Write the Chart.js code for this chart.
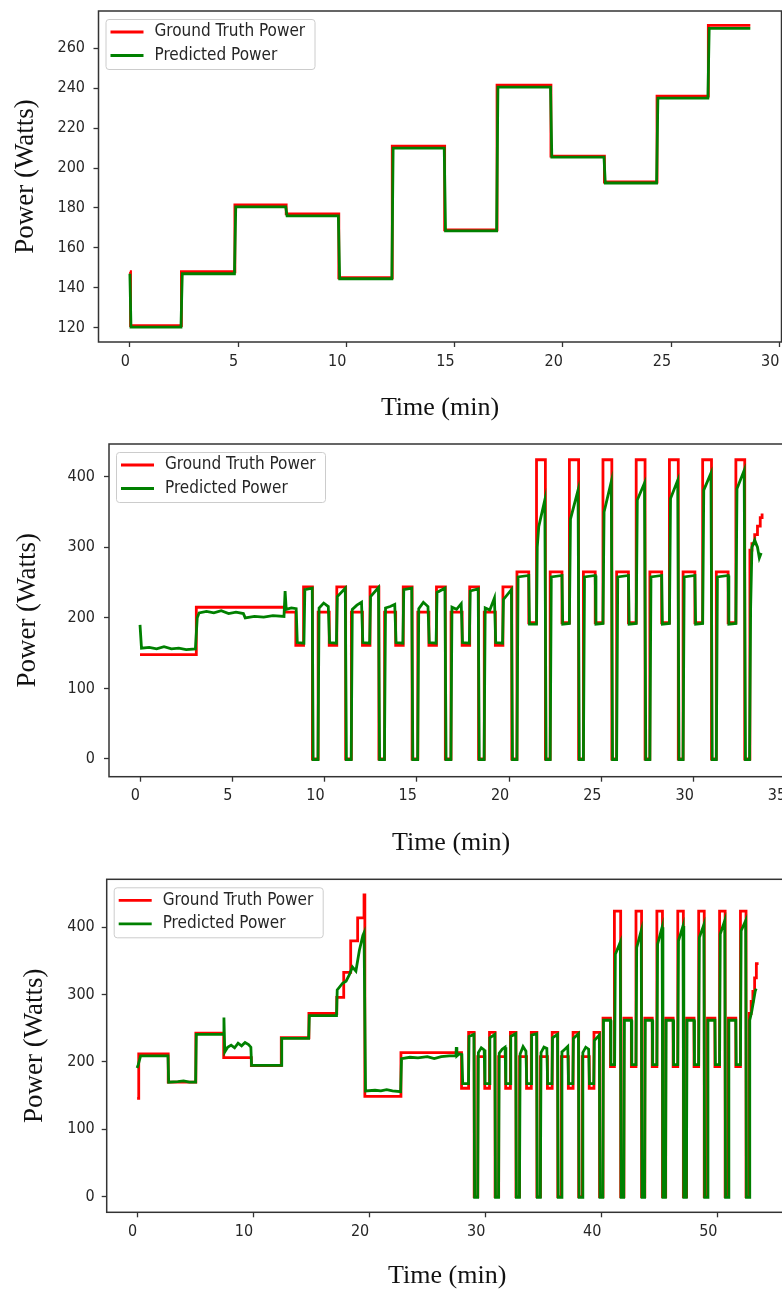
<!DOCTYPE html>
<html>
<head>
<meta charset="utf-8">
<script src="https://cdn.jsdelivr.net/npm/chart.js@4.4.1/dist/chart.umd.min.js"></script>
<style>
html, body { margin: 0; padding: 0; background: #ffffff; overflow: hidden; width: 782px; height: 1293px; }
.panel { position: absolute; left: 0; }
canvas { display: block; }
</style>
</head>
<body>
<div class="panel" style="top:0px"><canvas id="c1" width="800" height="430"></canvas></div>
<div class="panel" style="top:430px"><canvas id="c2" width="800" height="430"></canvas></div>
<div class="panel" style="top:862px"><canvas id="c3" width="800" height="431"></canvas></div>
<script>
// ---------------- DATA ----------------
const seriesLabels = ['Ground Truth Power', 'Predicted Power'];
const xTitle = 'Time (min)';
const yTitle = 'Power (Watts)';

// Chart 1
const c1XTicks = [0, 5, 10, 15, 20, 25, 30];
const c1YTicks = [120, 140, 160, 180, 200, 220, 240, 260];
const c1TruthTime = [0, 0.03, 2.38, 4.85, 7.22, 9.65, 12.12, 14.54, 16.96, 19.45, 21.92, 24.35, 26.72, 28.66];
const c1Truth     = [148, 121, 148, 181.5, 177, 145, 211, 169, 241.5, 206, 193, 236, 271.5, 271.5];
const c1PredTime = [0, 0.05, 2.36, 2.42, 4.83, 4.89, 7.2, 7.26, 9.63, 9.69, 12.1, 12.16, 14.52, 14.58, 16.94, 17.0, 19.43, 19.49, 21.9, 21.96, 24.33, 24.39, 26.7, 26.76, 28.66];
const c1Pred     = [147, 120.3, 120.3, 147, 147, 180.5, 180.5, 176, 176, 144.5, 144.5, 210, 210, 168.5, 168.5, 240.5, 240.5, 205.5, 205.5, 192.5, 192.5, 235, 235, 270, 270];

// Chart 2
const c2XTicks = [0, 5, 10, 15, 20, 25, 30, 35];
const c2YTicks = [0, 100, 200, 300, 400];
const c2TruthTime = [
  0, 3.05, 7.84, 8.44, 8.86,
  9.34, 9.65, 10.25, 10.66,
  11.14, 11.45, 12.05, 12.46,
  12.94, 13.25, 13.85, 14.26,
  14.74, 15.05, 15.65, 16.06,
  16.54, 16.85, 17.45, 17.86,
  18.34, 18.65, 19.25, 19.66,
  20.14, 20.42, 21.06, 21.48,
  21.96, 22.22, 22.86, 23.26,
  23.76, 24.02, 24.66, 25.08,
  25.56, 25.82, 26.46, 26.88,
  27.36, 27.62, 28.26, 28.68,
  29.16, 29.42, 30.06, 30.48,
  30.96, 31.22, 31.86, 32.28,
  32.76, 33.04, 33.15, 33.3, 33.45, 33.6, 33.7];
const c2Truth = [
  148, 215, 208, 161, 244,
  0, 208, 161, 244,
  0, 208, 161, 244,
  0, 208, 161, 244,
  0, 208, 161, 244,
  0, 208, 161, 244,
  0, 208, 161, 244,
  0, 265, 193, 424,
  0, 265, 193, 424,
  0, 265, 193, 424,
  0, 265, 193, 424,
  0, 265, 193, 424,
  0, 265, 193, 424,
  0, 265, 193, 424,
  0, 296, 305, 318, 330, 342, 348];
const c2PredTime = [
  0, 0.08, 0.5, 0.9, 1.3, 1.7, 2.1, 2.5, 3.0, 3.1, 3.2, 3.6, 4.0, 4.4, 4.8, 5.2, 5.6, 5.7, 6.2, 6.7, 7.2, 7.8, 7.86, 7.92, 8.2, 8.46, 8.52, 8.88, 8.93, 9.33,
  9.38, 9.64, 9.70, 9.95, 10.2, 10.27, 10.64, 10.69, 11.12,
  11.18, 11.44, 11.50, 11.75, 12.0, 12.07, 12.44, 12.49, 12.92,
  12.98, 13.24, 13.30, 13.55, 13.80, 13.87, 14.24, 14.29, 14.72,
  14.78, 15.04, 15.10, 15.35, 15.60, 15.67, 16.04, 16.09, 16.52,
  16.58, 16.84, 16.90, 17.15, 17.40, 17.47, 17.84, 17.89, 18.32,
  18.38, 18.64, 18.70, 18.95, 19.20, 19.27, 19.64, 19.69, 20.12,
  20.18, 20.42, 20.48, 21.06, 21.10, 21.48, 21.52, 21.60, 21.93,
  22.0, 22.22, 22.28, 22.86, 22.90, 23.26, 23.32, 23.73,
  23.8, 24.02, 24.08, 24.66, 24.70, 25.08, 25.14, 25.53,
  25.6, 25.82, 25.88, 26.46, 26.50, 26.88, 26.94, 27.33,
  27.4, 27.62, 27.68, 28.26, 28.30, 28.68, 28.74, 29.13,
  29.2, 29.42, 29.48, 30.06, 30.10, 30.48, 30.54, 30.93,
  31.0, 31.22, 31.28, 31.86, 31.90, 32.28, 32.34, 32.73,
  32.8, 33.02, 33.08, 33.15, 33.3, 33.45, 33.55, 33.65];
const c2Pred = [
  190, 157, 158, 156, 159, 156, 157, 155, 156, 200, 207, 209, 207, 210, 206, 208, 206, 200, 202, 201, 203, 202, 238, 212, 214, 213, 165, 164, 240, 242,
  -1, -1, 214, 221, 216, 165, 164, 230, 242,
  -1, -1, 212, 218, 222, 165, 164, 230, 243,
  -1, -1, 214, 216, 219, 165, 164, 240, 242,
  -1, -1, 213, 222, 216, 165, 164, 236, 242,
  -1, -1, 215, 212, 220, 165, 164, 238, 241,
  -1, -1, 214, 211, 228, 165, 164, 226, 240,
  -1, -1, 258, 260, 191, 191, 300, 329, 367,
  -1, -1, 258, 260, 191, 192, 340, 381,
  -1, -1, 258, 260, 191, 192, 350, 393,
  -1, -1, 258, 260, 191, 192, 367, 391,
  -1, -1, 258, 260, 191, 192, 369, 395,
  -1, -1, 258, 260, 191, 192, 381, 405,
  -1, -1, 258, 260, 191, 192, 383, 409,
  -1, -1, 215, 300, 310, 300, 285, 292];

// Chart 3
const c3XTicks = [0, 10, 20, 30, 40, 50];
const c3YTicks = [0, 100, 200, 300, 400];
const c3TruthTime = [
  0, 0.14, 2.68, 5.06, 7.46, 9.84, 12.42, 14.80, 17.2, 17.8, 18.4, 19.0, 19.55, 19.62, 22.73, 27.95, 28.56,
  29.04, 29.35, 29.95, 30.36,
  30.84, 31.15, 31.75, 32.16,
  32.64, 32.95, 33.55, 33.96,
  34.44, 34.75, 35.35, 35.76,
  36.24, 36.55, 37.15, 37.56,
  38.04, 38.35, 38.95, 39.36,
  39.84, 40.14, 40.78, 41.12,
  41.66, 41.94, 42.58, 42.98,
  43.46, 43.74, 44.38, 44.78,
  45.26, 45.54, 46.18, 46.58,
  47.06, 47.34, 47.98, 48.38,
  48.86, 49.14, 49.78, 50.18,
  50.66, 50.94, 51.58, 51.98,
  52.46, 52.74, 52.9, 53.05, 53.2, 53.35, 53.42];
const c3Truth = [
  146, 212, 170, 243, 206.5, 194.5, 236, 272, 296, 333, 380, 414, 448, 149, 214, 161, 244,
  0, 208, 161, 244,
  0, 208, 161, 244,
  0, 208, 161, 244,
  0, 208, 161, 244,
  0, 208, 161, 244,
  0, 208, 161, 244,
  0, 265, 193, 424,
  0, 265, 193, 424,
  0, 265, 193, 424,
  0, 265, 193, 424,
  0, 265, 193, 424,
  0, 265, 193, 424,
  0, 265, 193, 424,
  0, 272, 290, 305, 325, 346, 348];
const c3PredTime = [
  0, 0.1, 0.3, 1.0, 2.0, 2.66, 2.72, 3.5, 4.0, 4.5, 5.04, 5.1, 7.44, 7.48, 7.55, 7.8, 8.1, 8.4, 8.7, 9.0,
  9.3, 9.6, 9.8, 9.86, 12.4, 12.46, 14.78, 14.84, 17.18, 17.24, 17.7, 18.0, 18.3, 18.55, 18.85, 19.15, 19.45, 19.55, 19.68, 20.5,
  21.0, 21.5, 22.0, 22.7, 22.78, 23.5, 24.2, 25.0, 25.6, 26.2, 26.9, 27.47, 27.5, 27.55, 27.75, 27.98, 28.05, 28.55, 28.6, 29.02,
  29.08, 29.34, 29.4, 29.65, 29.9, 29.97, 30.34, 30.39, 30.82,
  30.88, 31.14, 31.2, 31.45, 31.7, 31.77, 32.14, 32.19, 32.62,
  32.68, 32.94, 33.0, 33.25, 33.5, 33.57, 33.94, 33.99, 34.42,
  34.48, 34.74, 34.8, 35.05, 35.3, 35.37, 35.74, 35.79, 36.22,
  36.28, 36.54, 36.6, 36.85, 37.1, 37.17, 37.54, 37.59, 38.02,
  38.08, 38.34, 38.4, 38.65, 38.9, 38.97, 39.34, 39.39, 39.82,
  39.88, 40.12, 40.18, 40.78, 40.82, 41.14, 41.2, 41.63,
  41.7, 41.92, 41.98, 42.58, 42.62, 42.98, 43.04, 43.43,
  43.5, 43.72, 43.78, 44.38, 44.42, 44.78, 44.84, 45.23,
  45.3, 45.52, 45.58, 46.18, 46.22, 46.58, 46.64, 47.03,
  47.1, 47.32, 47.38, 47.98, 48.02, 48.38, 48.44, 48.83,
  48.9, 49.12, 49.18, 49.78, 49.82, 50.18, 50.24, 50.63,
  50.7, 50.92, 50.98, 51.58, 51.62, 51.98, 52.04, 52.43,
  52.5, 52.72, 52.78, 52.95, 53.1, 53.25, 53.33];
const c3Pred = [
  191, 196, 209, 209, 209, 209, 170, 171, 172, 170, 170, 241, 241, 266, 215, 222, 225, 221, 228, 224,
  229, 226, 222, 195, 195, 235, 235, 269, 269, 307, 317, 320, 330, 341, 335, 366, 388, 392, 157, 158,
  157, 159, 157, 156, 205, 207, 206, 208, 205, 208, 209, 209, 222, 209, 212, 211, 168, 168, 238, 241,
  -1, -1, 214, 221, 218, 168, 168, 236, 241,
  -1, -1, 213, 219, 222, 168, 168, 238, 242,
  -1, -1, 212, 223, 216, 168, 168, 240, 242,
  -1, -1, 214, 222, 220, 168, 168, 236, 241,
  -1, -1, 215, 219, 223, 168, 168, 235, 242,
  -1, -1, 214, 222, 219, 168, 168, 232, 240,
  -1, -1, 262, 262, 196, 196, 360, 378,
  -1, -1, 262, 262, 196, 196, 370, 395,
  -1, -1, 262, 262, 196, 196, 375, 400,
  -1, -1, 262, 262, 196, 196, 380, 402,
  -1, -1, 262, 262, 196, 196, 385, 404,
  -1, -1, 262, 262, 196, 196, 390, 410,
  -1, -1, 262, 262, 196, 196, 395, 410,
  -1, -1, 262, 275, 290, 305, 309];

// ---------------- STYLE ----------------
const RED = '#ff0000';
const GREEN = '#008000';
const TEXT = '#262626';
const SANS = '"DejaVu Sans Condensed", "Liberation Sans Narrow", "DejaVu Sans", sans-serif';
const SERIF = '"Liberation Serif", "Times New Roman", serif';

const frameLegend = {
  id: 'frameLegend',
  afterDatasetsDraw(chart, args, o) {
    const { ctx, chartArea: a } = chart;
    ctx.save();
    ctx.strokeStyle = '#333333';
    ctx.lineWidth = 1.5;
    ctx.strokeRect(a.left, a.top, a.right - a.left, a.bottom - a.top);
    const bx = a.left + o.x, by = a.top + o.y;
    ctx.beginPath();
    ctx.roundRect(bx, by, o.w, o.h, 3);
    ctx.fillStyle = 'rgba(255,255,255,0.8)';
    ctx.fill();
    ctx.strokeStyle = '#cccccc';
    ctx.lineWidth = 1;
    ctx.stroke();
    ctx.font = '17px ' + SANS;
    ctx.textBaseline = 'middle';
    ctx.textAlign = 'left';
    chart.data.datasets.forEach((ds, i) => {
      const y = by + o.rows[i];
      ctx.strokeStyle = ds.borderColor;
      ctx.lineWidth = 2.8;
      ctx.beginPath();
      ctx.moveTo(bx + o.line[0], y);
      ctx.lineTo(bx + o.line[1], y);
      ctx.stroke();
      ctx.fillStyle = TEXT;
      ctx.fillText(ds.label, bx + o.textX, y);
    });
    ctx.restore();
  }
};

function pts(t, v) { return t.map((x, i) => ({ x: x, y: v[i] })); }

function build(id, s) {
  return new Chart(document.getElementById(id), {
    type: 'line',
    data: {
      datasets: [
        { label: seriesLabels[0], data: pts(s.truthT, s.truth), borderColor: RED, backgroundColor: RED,
          borderWidth: 2.8, stepped: true, pointRadius: 0, fill: false, order: 2 },
        { label: seriesLabels[1], data: pts(s.predT, s.pred), borderColor: GREEN, backgroundColor: GREEN,
          borderWidth: 2.8, tension: 0, pointRadius: 0, fill: false, order: 1 }
      ]
    },
    options: {
      responsive: false,
      animation: false,
      devicePixelRatio: 1,
      events: [],
      layout: { padding: s.pad },
      plugins: {
        legend: { display: false },
        tooltip: { enabled: false },
        frameLegend: { x: 7.5, y: 8.5, w: 209, h: 50, rows: [12.5, 36], line: [4.5, 37.5], textX: 48.5 }
      },
      scales: {
        x: {
          type: 'linear', bounds: 'data', min: s.xMin, max: s.xMax,
          afterBuildTicks: sc => { sc.ticks = s.xTicks.map(v => ({ value: v })); },
          afterFit: sc => { sc.height = s.xH; sc.paddingLeft = 0; sc.paddingRight = 0; },
          ticks: { font: { family: SANS, size: 16 }, color: TEXT, padding: 5, maxRotation: 0, autoSkip: false,
                   align: 'end', callback: v => String(v) },
          grid: { drawOnChartArea: false, drawTicks: true, tickLength: 5, tickColor: '#333333', tickWidth: 1.3 },
          border: { display: false },
          title: { display: true, text: xTitle, color: '#111111',
                   font: { family: SERIF, size: 26, lineHeight: 1.2 }, padding: { top: 0, bottom: s.xTitlePad } }
        },
        y: {
          type: 'linear', bounds: 'data', min: s.yMin, max: s.yMax,
          afterBuildTicks: sc => { sc.ticks = s.yTicks.map(v => ({ value: v })); },
          afterFit: sc => { sc.width = s.yW; sc.paddingTop = 0; sc.paddingBottom = 0; },
          ticks: { font: { family: SANS, size: 16 }, color: TEXT, padding: s.yTickPad, autoSkip: false,
                   callback: v => String(v) },
          grid: { drawOnChartArea: false, drawTicks: true, tickLength: 5, tickColor: '#333333', tickWidth: 1.3 },
          border: { display: false },
          title: { display: true, text: yTitle, color: '#111111',
                   font: { family: SERIF, size: 27, lineHeight: 1.2 }, padding: { top: s.yTitlePad, bottom: 0 } }
        }
      }
    },
    plugins: [frameLegend]
  });
}

build('c1', {
  truthT: c1TruthTime, truth: c1Truth, predT: c1PredTime, pred: c1Pred,
  xTicks: c1XTicks, yTicks: c1YTicks,
  xMin: -1.45, xMax: 30.1, yMin: 112.8, yMax: 278.7,
  pad: { left: 0, top: 11, right: 18.5, bottom: 0 }, yW: 98.5, xH: 88,
  yTickPad: 8.5, xTitlePad: 6.4, yTitlePad: 9.8
});
build('c2', {
  truthT: c2TruthTime, truth: c2Truth, predT: c2PredTime, pred: c2Pred,
  xTicks: c2XTicks, yTicks: c2YTicks,
  xMin: -1.68, xMax: 35.38, yMin: -25.1, yMax: 446.3,
  pad: { left: 0, top: 14, right: 6.9, bottom: 0 }, yW: 109, xH: 83.3,
  yTickPad: 9, xTitlePad: 1.4, yTitlePad: 11.3
});
build('c3', {
  truthT: c3TruthTime, truth: c3Truth, predT: c3PredTime, pred: c3Pred,
  xTicks: c3XTicks, yTicks: c3YTicks,
  xMin: -2.62, xMax: 56.05, yMin: -23.2, yMax: 471.3,
  pad: { left: 0, top: 17.3, right: 12.3, bottom: 0 }, yW: 106.7, xH: 80.7,
  yTickPad: 7, xTitlePad: 1.4, yTitlePad: 18.8
});
</script>
</body>
</html>
